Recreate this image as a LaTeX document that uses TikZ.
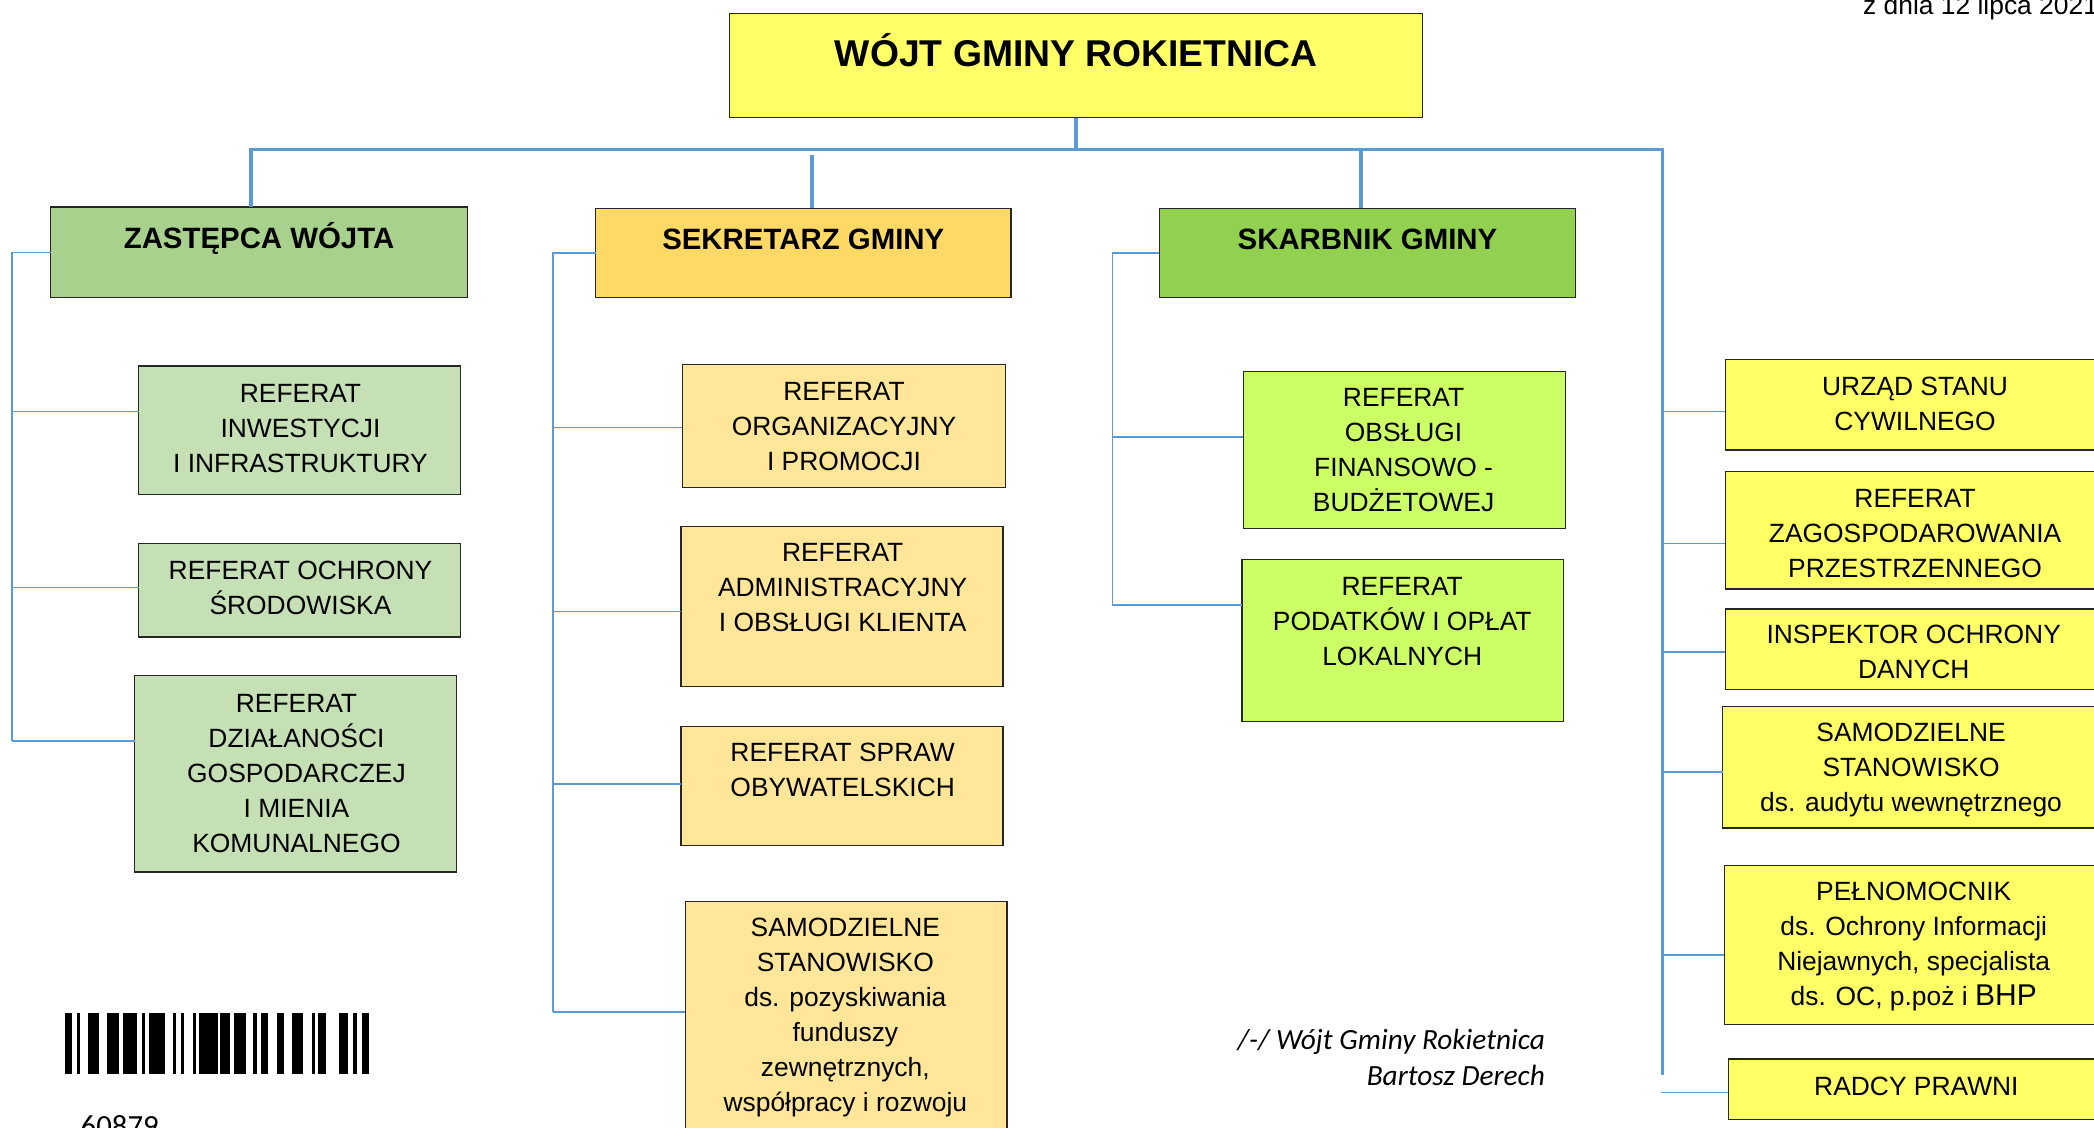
\documentclass[tikz,border=0pt]{standalone}
\usepackage{fontspec}
\setmainfont{Liberation Sans}
\newfontfamily\sigfont{Carlito}
\usetikzlibrary{fit}
\definecolor{lineblue}{HTML}{5B9BD5}
\definecolor{cyellow}{HTML}{FFFF66}
\definecolor{czast}{HTML}{A9D18E}
\definecolor{czastc}{HTML}{C5E0B4}
\definecolor{csek}{HTML}{FFD966}
\definecolor{csekc}{HTML}{FFE699}
\definecolor{cska}{HTML}{92D050}
\definecolor{cskac}{HTML}{CCFF66}
\newcommand\bxfont{\fontsize{26.4pt}{35pt}\selectfont}
\newcommand\hdfont{\bfseries\fontsize{29.4pt}{35pt}\selectfont}
\begin{document}
\begin{tikzpicture}[x=1.3355pt,y=-1.3355pt,
  box/.style={draw=black!85, line width=1.2pt, inner sep=0pt, outer sep=0pt},
  txt/.style={inner sep=0pt, align=center, font=\bxfont, anchor=north},
  head/.style={inner sep=0pt, font=\hdfont, anchor=base},
  bus/.style={draw=lineblue, line width=3.6pt},
  branch/.style={draw=lineblue, line width=1.6pt}]
\useasboundingbox (0,0) rectangle (1568,844);

% ---------- connectors ----------
\coordinate (hL) at (188,112);
\coordinate (hR) at (1245,112);
\coordinate (rEnd) at (1245,805);
\coordinate (sDrop) at (608,116);
\coordinate (kDrop) at (1019,112);

% boxes (drawn after coordinates, connectors reference them)
\node[box, fill=cyellow, fit={(546,10) (1065,88)}] (top) {};
\node[box, fill=czast, fit={(38,155) (350,223)}] (zast) {};
\node[box, fill=csek, fit={(446,156) (757,223)}] (sek) {};
\node[box, fill=cska, fit={(868,156) (1180,223)}] (ska) {};

\node[box, fill=czastc, fit={(104,274) (345,370)}] (inw) {};
\node[box, fill=czastc, fit={(104,407) (345,477)}] (och) {};
\node[box, fill=czastc, fit={(101,506) (342,653)}] (dz) {};

\node[box, fill=csekc, fit={(511,273) (753,365)}] (org) {};
\node[box, fill=csekc, fit={(510,394) (751,514)}] (adm) {};
\node[box, fill=csekc, fit={(510,544) (751,633)}] (sp) {};
\node[box, fill=csekc, fit={(513,675) (754,860)}] (sam) {};

\node[box, fill=cskac, fit={(931,278) (1172,396)}] (obs) {};
\node[box, fill=cskac, fit={(930,419) (1171,540)}] (pod) {};

\node[box, fill=cyellow, fit={(1292,269) (1590,337)}] (usc) {};
\node[box, fill=cyellow, fit={(1292,353) (1590,441)}] (zag) {};
\node[box, fill=cyellow, fit={(1292,456) (1590,516)}] (iod) {};
\node[box, fill=cyellow, fit={(1290,529) (1590,620)}] (aud) {};
\node[box, fill=cyellow, fit={(1291,648) (1590,767)}] (pel) {};
\node[box, fill=cyellow, fit={(1294,793) (1590,838)}] (rad) {};

% main bus
\draw[bus] (top.south) -- (top.south |- hL);
\draw[bus] (hL |- zast.north) -- (hL) -- (hR) -- (rEnd);
\draw[bus] (sDrop) -- (sDrop |- sek.north);
\draw[bus] (kDrop) -- (kDrop |- ska.north);

% Zastepca branches
\coordinate (z1) at (9,308);
\coordinate (z2) at (9,440);
\coordinate (z3) at (9,555);
\draw[branch] (zast.west) -| (z3);
\draw[branch] (z1) -- (z1 -| inw.west);
\draw[branch] (z2) -- (z2 -| och.west);
\draw[branch] (z3) -- (z3 -| dz.west);

% Sekretarz branches
\coordinate (s1) at (414,320);
\coordinate (s2) at (414,458);
\coordinate (s3) at (414,587);
\coordinate (s4) at (414,758);
\draw[branch] (sek.west) -| (s4);
\draw[branch] (s1) -- (s1 -| org.west);
\draw[branch] (s2) -- (s2 -| adm.west);
\draw[branch] (s3) -- (s3 -| sp.west);
\draw[branch] (s4) -- (s4 -| sam.west);

% Skarbnik branches
\coordinate (k1) at (833,327);
\coordinate (k2) at (833,453);
\draw[branch] (ska.west) -| (k2);
\draw[branch] (k1) -- (k1 -| obs.west);
\draw[branch] (k2) -- (k2 -| pod.west);

% right branches
\coordinate (r1) at (1245,308);
\coordinate (r2) at (1245,407);
\coordinate (r3) at (1245,488);
\coordinate (r4) at (1245,578);
\coordinate (r5) at (1245,715);
\coordinate (r6) at (1244,818);
\draw[branch] (r1) -- (r1 -| usc.west);
\draw[branch] (r2) -- (r2 -| zag.west);
\draw[branch] (r3) -- (r3 -| iod.west);
\draw[branch] (r4) -- (r4 -| aud.west);
\draw[branch] (r5) -- (r5 -| pel.west);
\draw[branch] (r6) -- (r6 -| rad.west);

% ---------- texts ----------
\node[head, font=\bfseries\fontsize{37.3pt}{40pt}\selectfont] (topT) at (806,50) {WÓJT GMINY ROKIETNICA};
\node[head] (zastT) at (194,186) {ZASTĘPCA WÓJTA};
\node[head] (sekT) at (601.5,187) {SEKRETARZ GMINY};
\node[head] (skaT) at (1024,187) {SKARBNIK GMINY};

\node[txt] (inwT) at (225,282.7) {\strut REFERAT\\INWESTYCJI\\I INFRASTRUKTURY\strut};
\node[txt] (ochT) at (225,415.7) {\strut REFERAT OCHRONY\\ŚRODOWISKA\strut};
\node[txt] (dzT) at (222,514.7) {\strut REFERAT\\DZIAŁANOŚCI\\GOSPODARCZEJ\\I MIENIA\\KOMUNALNEGO\strut};

\node[txt] (orgT) at (632,281.7) {\strut REFERAT\\ORGANIZACYJNY\\I PROMOCJI\strut};
\node[txt] (admT) at (631,401.7) {\strut REFERAT\\ADMINISTRACYJNY\\I OBSŁUGI KLIENTA\strut};
\node[txt] (spT) at (631,551.7) {\strut REFERAT SPRAW\\OBYWATELSKICH\strut};
\node[txt] (samT) at (633,682.7) {\strut SAMODZIELNE\\STANOWISKO\\ds. pozyskiwania\\funduszy\\zewnętrznych,\\współpracy i rozwoju\strut};

\node[txt] (obsT) at (1051,285.7) {\strut REFERAT\\OBSŁUGI\\FINANSOWO -\\BUDŻETOWEJ\strut};
\node[txt] (podT) at (1050,427.7) {\strut REFERAT\\PODATKÓW I OPŁAT\\LOKALNYCH\strut};

\node[txt] (uscT) at (1434,277.7) {\strut URZĄD STANU\\CYWILNEGO\strut};
\node[txt] (zagT) at (1434,361.7) {\strut REFERAT\\ZAGOSPODAROWANIA\\PRZESTRZENNEGO\strut};
\node[txt] (iodT) at (1433,463.7) {\strut INSPEKTOR OCHRONY\\DANYCH\strut};
\node[txt] (audT) at (1431,536.7) {\strut SAMODZIELNE\\STANOWISKO\\ds. audytu wewnętrznego\strut};
\node[txt] (pelT) at (1433,655.7) {\strut PEŁNOMOCNIK\\ds. Ochrony Informacji\\Niejawnych, specjalista\\ds. OC, p.poż i {\fontsize{30pt}{35pt}\selectfont BHP}\strut};
\node[txt] (radT) at (1435,801.7) {\strut RADCY PRAWNI\strut};

% date, signature, code
\node[inner sep=0pt, anchor=base west, font=\bxfont] (date) at (1395,11.2) {z dnia 12 lipca 2021};
\node[inner sep=0pt, anchor=base east, font=\sigfont\itshape\fontsize{29.3pt}{36pt}\selectfont] (sig1) at (1157,786) {/-/ Wójt Gminy Rokietnica};
\node[inner sep=0pt, anchor=base east, font=\sigfont\itshape\fontsize{29.3pt}{36pt}\selectfont] (sig2) at (1157,813) {Bartosz Derech};
\node[inner sep=0pt, anchor=base west, font=\sigfont\fontsize{30.8pt}{36pt}\selectfont] (code) at (60.3,850.7) {60879};

% barcode (full-size pixel units)
\begin{scope}[x=1pt,y=-1pt]
\foreach \a/\b in {65/72,77/80,88/99,107/119,123/137,142/145,149/165,173/176,181/184,193/196,199/218,220/230,234/246,253/257,261/268,277/284,292/303,312/315,318/326,339/348,353/357,362/369}
  \fill[black] (\a,1013) rectangle (\b,1074);
\end{scope}
\end{tikzpicture}
\end{document}
